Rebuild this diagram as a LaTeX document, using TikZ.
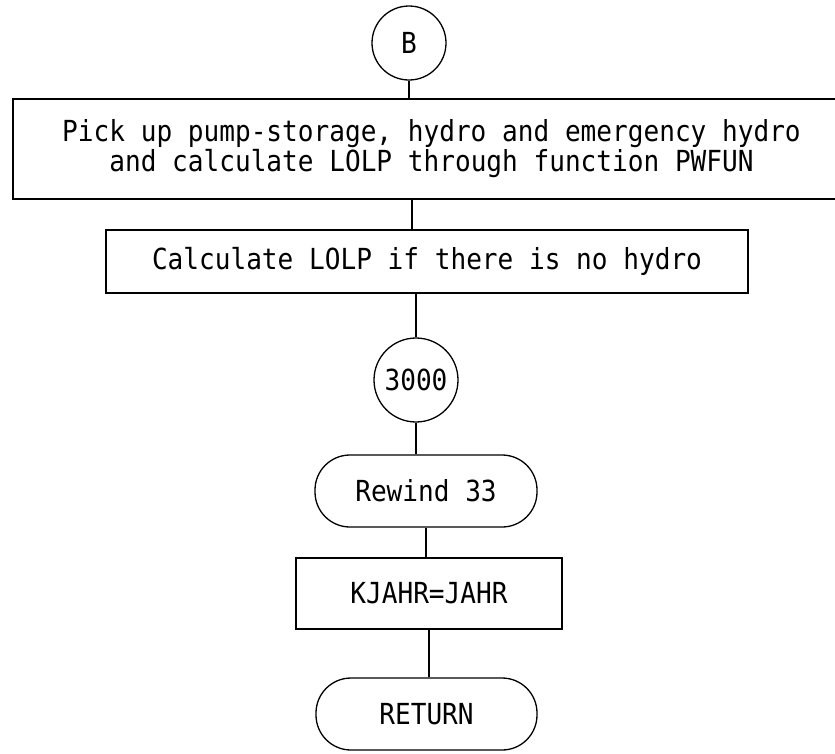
\documentclass[tikz,border=0pt]{standalone}
\usepackage{fontspec}
\newfontfamily\twfont[FakeStretch=0.9]{DejaVu Sans Mono}
\tikzset{
  base/.style={draw=black, line width=1.3pt, inner sep=0pt, align=center,
    font=\twfont\fontsize{29}{30}\selectfont, text=black},
  conn/.style={circle, base},
  procbox/.style={rectangle, base},
  pill/.style={rectangle, base, rounded corners=35pt},
  link/.style={draw=black, line width=1.3pt},
}
\begin{document}
\begin{tikzpicture}[x=1pt, y=-1pt]
\useasboundingbox (0,0) rectangle (835,753);
\node[conn, minimum size=74pt] (B) at (409,43) {B};
\node[procbox, minimum width=837pt, minimum height=100pt] (box1) at (431.5,149)
  {Pick up pump-storage, hydro and emergency hydro\\and calculate LOLP through function PWFUN};
\node[procbox, minimum width=642pt, minimum height=63pt] (box2) at (427,261.5)
  {Calculate LOLP if there is no hydro};
\node[conn, minimum size=84pt] (c3000) at (416,380) {3000};
\node[pill, minimum width=222pt, minimum height=72pt] (rewind) at (426,491) {Rewind 33};
\node[procbox, minimum width=266pt, minimum height=71pt] (kjahr) at (429,593.5) {KJAHR=JAHR};
\node[pill, minimum width=221pt, minimum height=72pt] (ret) at (426.5,714) {RETURN};
\coordinate (j1) at (412,199);
\draw[link] (B.south) -- (B.south |- box1.north);
\draw[link] (j1) -- (j1 |- box2.north);
\draw[link] (box2.south -| c3000.north) -- (c3000.north);
\draw[link] (c3000.south) -- (c3000.south |- rewind.north);
\draw[link] (rewind.south) -- (rewind.south |- kjahr.north);
\draw[link] (kjahr.south) -- (kjahr.south |- ret.north);
\end{tikzpicture}
\end{document}
